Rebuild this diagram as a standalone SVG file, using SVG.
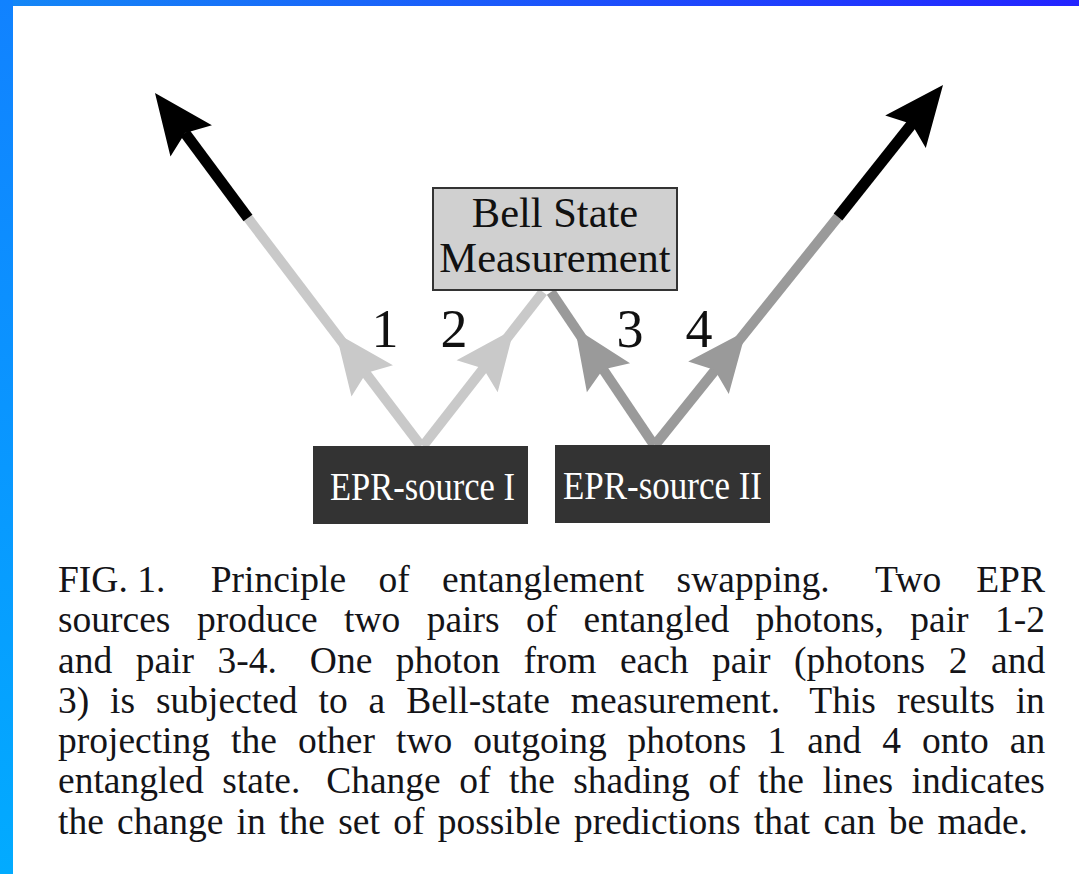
<svg xmlns="http://www.w3.org/2000/svg" xmlns:xlink="http://www.w3.org/1999/xlink" width="1079" height="874" viewBox="0 0 1079 874">
<style>
.serif{font-family:"Liberation Serif","Times New Roman",serif}
.cap{font-size:37.5px;fill:#141418}
.lbl{font-size:54px;fill:#111;text-anchor:middle}
.light{stroke:#c9c9c9;stroke-width:10;fill:none}
.mid{stroke:#9a9a9a;stroke-width:10;fill:none}
.dark{stroke:#000;stroke-width:11;fill:none}
</style>
<defs>
<linearGradient id="gTop" x1="0" y1="0" x2="1" y2="0">
<stop offset="0" stop-color="#1488F6"/>
<stop offset="1" stop-color="#2323FF"/>
</linearGradient>
<linearGradient id="gLeft" x1="0" y1="0" x2="0" y2="1">
<stop offset="0" stop-color="#1182FF"/>
<stop offset="1" stop-color="#02ABFF"/>
</linearGradient>
<path id="head" d="M0,0 L-60,-26 L-50,0 L-60,26 Z"/>
</defs>
<rect x="0" y="0" width="1079" height="874" fill="#ffffff"/>
<rect x="0" y="0" width="1079" height="6" fill="url(#gTop)"/>
<rect x="0" y="0" width="13" height="874" fill="url(#gLeft)"/>

<g id="connectors">
<line class="light" x1="421" y1="446" x2="248" y2="218"/>
<line class="dark" x1="248" y1="218" x2="185" y2="133"/>
<use xlink:href="#head" fill="#000" transform="translate(155,93) rotate(-127.1)"/>
<use xlink:href="#head" fill="#c9c9c9" transform="translate(336,333) rotate(-127.1)"/>
<line class="light" x1="423" y1="446" x2="543" y2="292"/>
<use xlink:href="#head" fill="#c9c9c9" transform="translate(514,329) rotate(-52.1)"/>
<line class="mid" x1="654" y1="445" x2="551" y2="292"/>
<use xlink:href="#head" fill="#9a9a9a" transform="translate(575,328) rotate(-123.9)"/>
<line class="mid" x1="655" y1="445" x2="838" y2="217"/>
<line class="dark" x1="838" y1="217" x2="915" y2="120"/>
<use xlink:href="#head" fill="#000" transform="translate(943,85) rotate(-51.3)"/>
<use xlink:href="#head" fill="#9a9a9a" transform="translate(746,331) rotate(-51.3)"/>
</g>

<g id="labels" class="serif lbl">
<text x="385" y="347">1</text>
<text x="454" y="347">2</text>
<text x="630" y="347">3</text>
<text x="699" y="347">4</text>
</g>

<g id="bsm">
<rect x="433" y="188" width="244" height="102" fill="#d0d0d0" stroke="#333" stroke-width="2"/>
<text class="serif" x="555" y="227" font-size="42.5" text-anchor="middle" fill="#111">Bell State</text>
<text class="serif" x="555" y="272" font-size="42.5" text-anchor="middle" fill="#111">Measurement</text>
</g>

<g id="epr1">
<rect x="313" y="446" width="215" height="78" fill="#333333"/>
<text class="serif" x="330" y="500" font-size="41" fill="#ffffff" textLength="185" lengthAdjust="spacingAndGlyphs">EPR-source I</text>
</g>

<g id="epr2">
<rect x="555" y="445" width="215" height="78" fill="#333333"/>
<text class="serif" x="563" y="499" font-size="41" fill="#ffffff" textLength="199" lengthAdjust="spacingAndGlyphs">EPR-source II</text>
</g>

<g id="caption" class="serif cap">
<text y="592"><tspan x="58">FIG.</tspan><tspan x="137.2">1.</tspan><tspan x="210.7">Principle</tspan><tspan x="378.5">of</tspan><tspan x="442.1">entanglement</tspan><tspan x="676.6">swapping.</tspan><tspan x="875.1">Two</tspan><tspan x="976.2">EPR</tspan></text>
<text y="632"><tspan x="58">sources</tspan><tspan x="196.9">produce</tspan><tspan x="344.1">two</tspan><tspan x="426.7">pairs</tspan><tspan x="526">of</tspan><tspan x="583.6">entangled</tspan><tspan x="755.8">photons,</tspan><tspan x="910.3">pair</tspan><tspan x="995">1-2</tspan></text>
<text y="672.5"><tspan x="58">and</tspan><tspan x="135.7">pair</tspan><tspan x="217.5">3-4.</tspan><tspan x="309.8">One</tspan><tspan x="395.8">photon</tspan><tspan x="523.5">from</tspan><tspan x="619.9">each</tspan><tspan x="712.1">pair</tspan><tspan x="793.9">(photons</tspan><tspan x="948.7">2</tspan><tspan x="991">and</tspan></text>
<text y="712.5"><tspan x="58">3)</tspan><tspan x="110.1">is</tspan><tspan x="156">subjected</tspan><tspan x="318.5">to</tspan><tspan x="368.6">a</tspan><tspan x="406.2">Bell-state</tspan><tspan x="570.8">measurement.</tspan><tspan x="809.3">This</tspan><tspan x="896.9">results</tspan><tspan x="1015.7">in</tspan></text>
<text y="753"><tspan x="58">projecting</tspan><tspan x="231.1">the</tspan><tspan x="297.9">other</tspan><tspan x="396">two</tspan><tspan x="473.3">outgoing</tspan><tspan x="627.6">photons</tspan><tspan x="767.4">1</tspan><tspan x="807.2">and</tspan><tspan x="882.3">4</tspan><tspan x="922.1">onto</tspan><tspan x="1009.8">an</tspan></text>
<text y="793"><tspan x="58">entangled</tspan><tspan x="222.3">state.</tspan><tspan x="326.2">Change</tspan><tspan x="459.3">of</tspan><tspan x="509">the</tspan><tspan x="573.2">shading</tspan><tspan x="708.4">of</tspan><tspan x="758.1">the</tspan><tspan x="822.4">lines</tspan><tspan x="911.6">indicates</tspan></text>
<text y="833.5"><tspan x="58">the</tspan><tspan x="117.1">change</tspan><tspan x="236.6">in</tspan><tspan x="279.1">the</tspan><tspan x="338.2">set</tspan><tspan x="393.2">of</tspan><tspan x="437.7">possible</tspan><tspan x="573.9">predictions</tspan><tspan x="753.8">that</tspan><tspan x="823.4">can</tspan><tspan x="888.7">be</tspan><tspan x="937.4">made.</tspan></text>
</g>
</svg>
